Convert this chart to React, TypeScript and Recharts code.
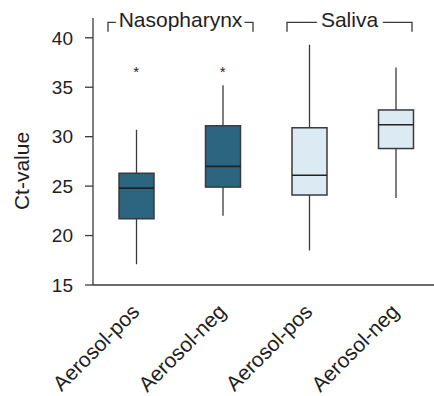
import React from "react";
import { ComposedChart, Bar, Cell, Scatter, XAxis, YAxis, ReferenceArea, Label } from "recharts";

// one id per box, tick text shown under it
const groups = ["np-pos", "np-neg", "sa-pos", "sa-neg"];
const tickLabels = ["Aerosol-pos", "Aerosol-neg", "Aerosol-pos", "Aerosol-neg"];

// Ct-value summary per box
const mins = [17.1, 22.0, 18.5, 23.8];
const q1s = [21.7, 24.9, 24.1, 28.8];
const medians = [24.8, 27.0, 26.1, 31.2];
const q3s = [26.3, 31.1, 30.9, 32.7];
const maxs = [30.7, 35.2, 39.3, 37.0];

const outlierGroups = ["np-pos", "np-neg"];
const outlierValues = [36.8, 36.8];

const yTicks = [15, 20, 25, 30, 35, 40];

const siteNames = ["Nasopharynx", "Saliva"];
const siteFrom = ["np-pos", "sa-pos"];
const siteTo = ["np-neg", "sa-neg"];
const siteBottom = [40.6, 40.6];
const siteTop = [41.55, 41.55];

const FILLS = ["#2c6580", "#2c6580", "#dbeaf3", "#dbeaf3"];
const INSETS = [[15, 13], [21, 27]]; // bracket ends, left/right
const INK = "#1e1e1e";
const LINE = "#3a3a3a";
const FONT = "'Liberation Sans', Arial, sans-serif";

const rows = groups.map((g, i) => ({
  g,
  label: tickLabels[i],
  min: mins[i],
  q1: q1s[i],
  median: medians[i],
  q3: q3s[i],
  max: maxs[i],
}));

const outliers = outlierGroups.map((g, i) => ({ g, value: outlierValues[i] }));

function BoxShape(props: any) {
  const { x, y, width, height, payload, fill } = props;
  const top = Math.min(y, y + height);
  const h = Math.abs(height);
  const { min, max, q1, median, q3 } = payload;
  const k = h / (max - min);
  const py = (v: number) => top + (max - v) * k;
  const cx = x + width / 2;
  return (
    <g>
      <line x1={cx} x2={cx} y1={py(max)} y2={py(q3)} stroke={LINE} strokeWidth={1.3} />
      <line x1={cx} x2={cx} y1={py(q1)} y2={py(min)} stroke={LINE} strokeWidth={1.3} />
      <rect x={x} y={py(q3)} width={width} height={py(q1) - py(q3)} fill={fill} stroke={LINE} strokeWidth={1.5} />
      <line x1={x} x2={x + width} y1={py(median)} y2={py(median)} stroke="#222" strokeWidth={1.6} />
    </g>
  );
}

function Star(props: any) {
  const { cx, cy } = props;
  return (
    <text x={cx} y={cy + 8} textAnchor="middle" fontSize={15} fill={INK} fontFamily={FONT}>
      *
    </text>
  );
}

function XTick(props: any) {
  const { x, y, index } = props;
  const ax = x + 4.5;
  const ay = y + 28;
  return (
    <text x={ax} y={ay} textAnchor="end" fontSize={21} fill={INK} fontFamily={FONT}
      transform={`rotate(-45, ${ax}, ${ay})`}>
      {tickLabels[index]}
    </text>
  );
}

function bracket(i: number) {
  return (props: any) => {
    const { x, y, width, height } = props;
    const x1 = x + INSETS[i][0];
    const x2 = x + width - INSETS[i][1];
    const yb = y + height;
    return (
      <g>
        <path d={`M${x1},${yb} V${y} H${x2} V${yb}`} fill="none" stroke={LINE} strokeWidth={1.3} />
        <text x={(x1 + x2) / 2} y={y + 5} textAnchor="middle" fontSize={21} fill={INK} fontFamily={FONT}
          stroke="#fff" strokeWidth={9} paintOrder="stroke">
          {siteNames[i]}
        </text>
      </g>
    );
  };
}

function YLabel(props: any) {
  const vb = props.viewBox;
  const lx = vb.x + 21;
  const ly = vb.y + vb.height / 2 + 19.5;
  return (
    <text x={lx} y={ly} textAnchor="middle" dominantBaseline="central" fontSize={21} fill={INK}
      fontFamily={FONT} transform={`rotate(-90, ${lx}, ${ly})`}>
      Ct-value
    </text>
  );
}

export default function App() {
  return (
    <div style={{ position: "absolute", left: 0, top: 0, width: 434, height: 396, overflow: "hidden", background: "#fff" }}>
      <ComposedChart width={440} height={396} data={rows} margin={{ top: 18, right: 1, left: 0, bottom: 0 }}
        style={{ fontFamily: FONT }}>
        <XAxis dataKey="g" type="category" allowDuplicatedCategory={false} height={111} tickLine={false}
          tickSize={0} tickMargin={0} interval={0}
          axisLine={{ stroke: LINE, strokeWidth: 1.3 }} tick={<XTick />} />
        <YAxis type="number" domain={[15, 42]} ticks={yTicks} width={93} tickSize={8} tickMargin={12}
          axisLine={{ stroke: LINE, strokeWidth: 1.3 }} tickLine={{ stroke: LINE, strokeWidth: 1.3 }}
          tick={{ fontSize: 19, fill: INK, fontFamily: FONT }}>
          <Label content={<YLabel />} />
        </YAxis>
        <Bar dataKey={(d: any) => [d.min, d.max]} barSize={35} shape={<BoxShape />} isAnimationActive={false}>
          {rows.map((r, i) => (
            <Cell key={r.g} fill={FILLS[i]} />
          ))}
        </Bar>
        <Scatter data={outliers} dataKey="value" shape={<Star />} isAnimationActive={false} />
        {siteNames.map((s, i) => (
          <ReferenceArea key={s} x1={siteFrom[i]} x2={siteTo[i]} y1={siteBottom[i]} y2={siteTop[i]}
            shape={bracket(i)} ifOverflow="visible" />
        ))}
      </ComposedChart>
    </div>
  );
}
